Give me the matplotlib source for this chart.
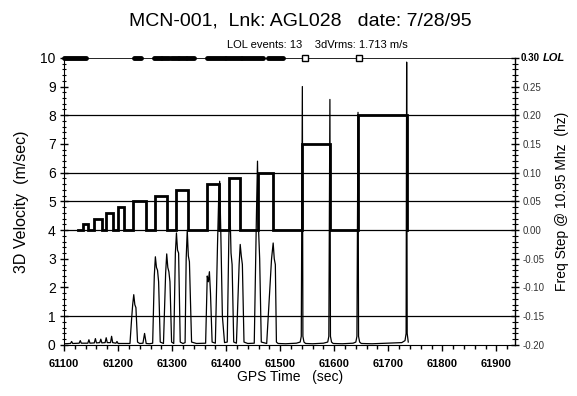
import matplotlib
matplotlib.use("Agg")
import matplotlib.pyplot as plt
from matplotlib.ticker import MultipleLocator

plt.rcParams['font.family'] = ['Liberation Sans', 'DejaVu Sans']

# frequency step trace (left-axis units, 4.0 == 0.00 Hz)
step_start = [61135, 61155, 61177, 61200, 61227, 61268, 61308, 61365, 61406, 61458, 61541, 61644]
step_end = [61144, 61170, 61190, 61211, 61251, 61290, 61330, 61386, 61426, 61487, 61592, 61734]
step_freq = [0.01, 0.02, 0.03, 0.04, 0.05, 0.06, 0.07, 0.08, 0.09, 0.10, 0.15, 0.20]
step_from = 61126

# 3D velocity trace
vel_time = [61100, 61112, 61114, 61116, 61128, 61130, 61132, 61144, 61146, 61148, 61156, 61158,
            61160, 61166, 61168, 61170, 61176, 61178, 61180, 61186, 61188, 61190, 61196, 61198,
            61200, 61210, 61222, 61225, 61227, 61229, 61231, 61233,
            61236, 61240, 61246, 61249, 61252, 61258, 61264, 61267, 61269, 61271, 61273, 61275,
            61278, 61284, 61288, 61290, 61292, 61294, 61296, 61299, 61303, 61306, 61308, 61310,
            61312, 61315, 61320, 61324, 61326, 61328, 61330, 61332, 61336, 61345, 61362, 61365,
            61367, 61369, 61371, 61374, 61380, 61384, 61386, 61388, 61390, 61393, 61397, 61402,
            61405, 61407, 61409, 61411, 61414, 61419, 61424, 61426, 61428, 61430, 61433, 61440,
            61452, 61456, 61458, 61460, 61462, 61465, 61475, 61484, 61487, 61489, 61491, 61493,
            61496, 61510, 61530, 61537, 61539, 61541, 61542, 61544, 61547, 61560, 61580, 61588,
            61590, 61592, 61593, 61595, 61598, 61615, 61635, 61640, 61642, 61644, 61645, 61647,
            61650, 61670, 61700, 61725, 61731, 61733, 61734, 61735, 61737]
vel_value = [0.04, 0.05, 0.12, 0.05, 0.06, 0.15, 0.06, 0.06, 0.18, 0.06, 0.07, 0.22,
             0.07, 0.08, 0.20, 0.07, 0.08, 0.25, 0.08, 0.08, 0.30, 0.08, 0.06, 0.12,
             0.05, 0.05, 0.05, 0.90, 1.40, 1.75, 1.40, 1.30,
             0.10, 0.05, 0.06, 0.40, 0.05, 0.04, 0.06, 2.40, 3.07, 2.70, 2.60, 2.20,
             0.10, 0.05, 2.50, 3.17, 2.70, 2.55, 2.20, 0.10, 0.05, 3.20, 3.90, 3.30,
             3.20, 0.10, 0.05, 0.08, 3.00, 4.00, 3.10, 2.90, 0.10, 0.05, 0.06, 2.40,
             2.20, 2.55, 1.80, 0.10, 0.06, 3.50, 5.00, 5.70, 4.00, 1.00, 0.08, 0.10,
             3.80, 4.80, 3.20, 2.80, 0.10, 0.06, 2.80, 3.50, 3.10, 2.80, 0.10, 0.05,
             0.06, 4.50, 6.40, 4.00, 3.00, 0.10, 0.05, 3.00, 3.55, 3.00, 2.80, 0.10,
             0.05, 0.04, 0.06, 0.10, 0.30, 9.00, 0.30, 0.10, 0.05, 0.04, 0.06, 0.10,
             0.30, 8.55, 0.30, 0.10, 0.05, 0.04, 0.06, 0.10, 0.30, 8.10, 0.30, 0.10,
             0.05, 0.04, 0.06, 0.08, 0.15, 0.40, 9.85, 0.40, 0.10]

# loss-of-lock intervals drawn along the top edge
lol_start = [61100, 61229, 61266, 61282, 61298, 61313, 61327, 61365, 61400, 61430, 61478]
lol_end = [61141, 61242, 61279, 61295, 61311, 61325, 61340, 61398, 61428, 61469, 61505]
lol_box = [61546, 61646]

grid_levels = [1, 4, 5, 6, 8]

fig = plt.figure(figsize=(5.77, 3.96), dpi=100)
ax = fig.add_axes([0.111, 0.129, 0.782, 0.725])

for g in grid_levels:
    ax.axhline(g, color='black', lw=0.9, zorder=1)

ax.plot(vel_time, vel_value, color='black', lw=0.9, zorder=2)

# build the stepped freq trace
sx, sy = [step_from], [4.0]
for a, b, f in zip(step_start, step_end, step_freq):
    lvl = 4.0 + f / 0.05
    sx += [a, a, b, b]
    sy += [4.0, lvl, lvl, 4.0]
ax.plot(sx, sy, color='black', lw=2.0, solid_joinstyle='miter', zorder=3)

for a, b in zip(lol_start, lol_end):
    ax.plot([a, b], [10, 10], color='black', lw=3.5, solid_capstyle='round', zorder=4, clip_on=False)
ax.plot(lol_box, [10, 10], 's', ms=4, mfc='white', mec='black', mew=1.0, zorder=4, clip_on=False)

ax.set_xlim(61100, 61935)
ax.set_ylim(0, 10)
ax.xaxis.set_major_locator(MultipleLocator(100))
ax.xaxis.set_minor_locator(MultipleLocator(20))
ax.yaxis.set_major_locator(MultipleLocator(1))
ax.yaxis.set_minor_locator(MultipleLocator(0.2))
ax.tick_params(axis='x', which='major', direction='out', length=4, width=1, labelsize=8, pad=6)
ax.tick_params(axis='x', which='minor', direction='out', length=3, width=1)
ax.tick_params(axis='y', which='major', direction='inout', length=6, width=1, labelsize=10, pad=3)
ax.tick_params(axis='y', which='minor', direction='inout', length=3, width=0.8)
for lab in ax.get_xticklabels():
    lab.set_fontweight('bold')
ax.spines['top'].set_linewidth(0.6)
ax.spines['right'].set_visible(False)

ax2 = ax.twinx()
ax2.set_ylim(-0.20, 0.30)
ax2.yaxis.set_minor_locator(MultipleLocator(0.01))
ax2.tick_params(axis='y', which='major', direction='inout', length=6, width=1, labelsize=7, pad=2,
                colors='black', labelcolor='#333333')
ax2.tick_params(axis='y', which='minor', direction='inout', length=4, width=0.8)
ax2.set_yticks([-0.20, -0.15, -0.10, -0.05, 0.00, 0.05, 0.10, 0.15, 0.20, 0.25, 0.30])
ax2.set_yticklabels(['-0.20', '-0.15', '-0.10', '-0.05', '0.00', '0.05', '0.10', '0.15', '0.20', '0.25', ''])
for s in ['top', 'left', 'bottom']:
    ax2.spines[s].set_visible(False)
ax2.spines['right'].set_linewidth(1.0)
ax2.text(1.012, 1.0, '0.30', transform=ax2.transAxes, fontsize=7, fontweight='bold', va='center', ha='left')
ax2.text(1.06, 1.0, 'LOL', transform=ax2.transAxes, fontsize=8, fontweight='bold', style='italic',
         va='center', ha='left')
ax2.set_ylabel('Freq Step @ 10.95 Mhz  (hz)', fontsize=10, labelpad=8)

ax.set_ylabel('3D Velocity  (m/sec)', fontsize=11.5, labelpad=8)
ax.set_xlabel('GPS Time   (sec)', fontsize=10, labelpad=1)

fig.text(0.52, 0.935, 'MCN-001,  Lnk: AGL028   date: 7/28/95', fontsize=14, ha='center', va='baseline')
fig.text(0.55, 0.878, 'LOL events: 13    3dVrms: 1.713 m/s', fontsize=8, ha='center', va='baseline')

fig.savefig('out.png', dpi=100)
